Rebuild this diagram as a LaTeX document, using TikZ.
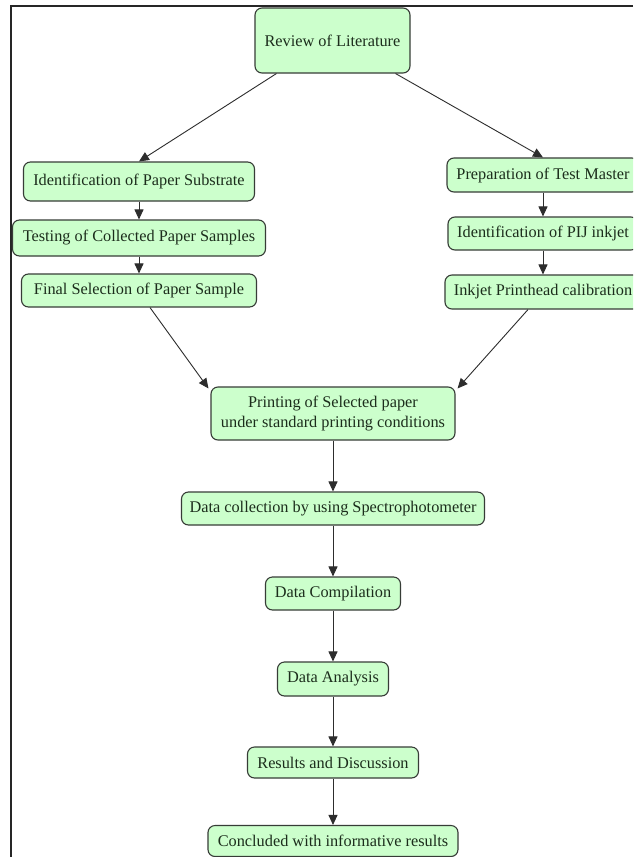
\documentclass[tikz,border=0pt]{standalone}
\usepackage{fontspec}
\setmainfont{Liberation Serif}
\usetikzlibrary{arrows.meta}
\definecolor{boxfill}{RGB}{204,255,204}
\definecolor{boxline}{RGB}{55,60,55}
\definecolor{boxtext}{RGB}{28,45,28}
\definecolor{conn}{RGB}{45,45,45}
\tikzset{
  stepbox/.style={draw=boxline, line width=1.1pt, fill=boxfill, rounded corners=7pt,
    text=boxtext, font=\fontsize{16.3}{20.5}\selectfont, align=center,
    inner xsep=7pt, inner ysep=4pt},
  arr/.style={draw=conn, line width=0.9pt, -{Triangle[length=10pt,width=9pt]}},
  frameline/.style={draw=black!85, line width=2pt}
}
\begin{document}
\begin{tikzpicture}[x=1pt,y=-1pt]
\clip (0,0) rectangle (633,857);
\fill[white] (0,0) rectangle (633,857);
\coordinate (ftr) at (633,6);
\coordinate (fc) at (11,6);
\coordinate (fbl) at (11,857);
\draw[frameline] (ftr) -- (fc) -- (fbl);

\node[stepbox, minimum width=155pt, minimum height=65pt] (rev) at (332.5,40.5) {Review of Literature};

\node[stepbox, minimum width=231pt, minimum height=39pt] (ident) at (139,181.5) {Identification of Paper Substrate};
\node[stepbox, minimum width=253pt, minimum height=36pt] (test) at (139,238) {Testing of Collected Paper Samples};
\node[stepbox, minimum width=235pt, minimum height=33pt] (fin) at (139,290.5) {Final Selection of Paper Sample};

\node[stepbox, minimum width=192pt, minimum height=34pt] (pm) at (543,175) {Preparation of Test Master};
\node[stepbox, minimum width=190pt, minimum height=33pt] (pij) at (543,233.5) {Identification of PIJ inkjet};
\node[stepbox, minimum width=196pt, minimum height=34pt] (ipc) at (543,292) {Inkjet Printhead calibration};

\node[stepbox, minimum width=244pt, minimum height=53pt] (prt) at (333,413.5) {Printing of Selected paper\\under standard printing conditions};
\node[stepbox, minimum width=303pt, minimum height=33pt] (dc) at (333,508.5) {Data collection by using Spectrophotometer};
\node[stepbox, minimum width=135pt, minimum height=33pt] (comp) at (333,593.5) {Data Compilation};
\node[stepbox, minimum width=111pt, minimum height=34pt] (ana) at (333,679) {Data Analysis};
\node[stepbox, minimum width=171pt, minimum height=31pt] (res) at (333,762.5) {Results and Discussion};
\node[stepbox, minimum width=250pt, minimum height=31pt] (con) at (333,841) {Concluded with informative results};

\draw[arr] ([xshift=22pt]rev.south west) -- (ident.north);
\draw[arr] ([xshift=-15pt]rev.south east) -- (pm.north);

\draw[arr] (ident) -- (test);
\draw[arr] (test) -- (fin);
\draw[arr] (pm) -- (pij);
\draw[arr] (pij) -- (ipc);

\draw[arr] ([xshift=11pt]fin.south) -- ([xshift=-2pt,yshift=-2pt]prt.north west);
\draw[arr] ([xshift=-15pt]ipc.south) -- ([xshift=2pt,yshift=-2pt]prt.north east);

\draw[arr] (prt) -- (dc);
\draw[arr] (dc) -- (comp);
\draw[arr] (comp) -- (ana);
\draw[arr] (ana) -- (res);
\draw[arr] (res) -- (con);
\end{tikzpicture}
\end{document}
